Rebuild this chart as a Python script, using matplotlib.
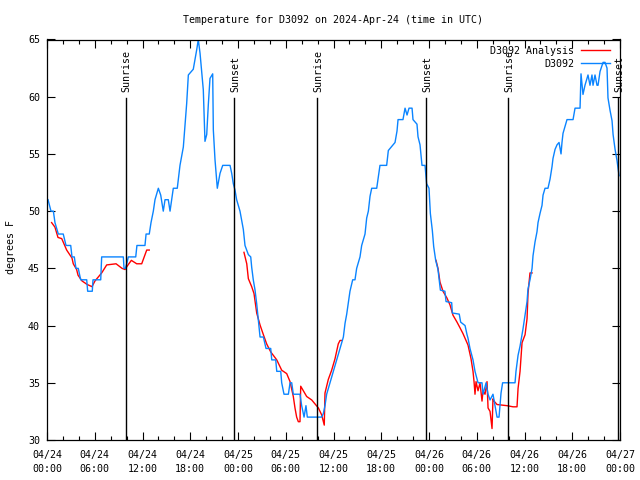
import matplotlib
matplotlib.use('Agg')
import matplotlib.pyplot as plt
from matplotlib.ticker import MultipleLocator

# ---- data (hours since 2024-04-24 00:00 UTC, degrees F) ----
blue_t = [0.13, 0.5, 0.8, 1.0, 1.42, 2.04, 2.39, 2.98, 3.14, 3.43, 3.64, 3.93, 4.23, 4.99, 5.11, 5.69,
          5.78, 6.75, 6.87, 9.59, 9.68, 9.85, 10.02, 10.22, 11.15, 11.3, 12.31, 12.45, 12.85, 13.07,
          13.36, 13.57, 13.99, 14.29, 14.61, 14.83, 15.24, 15.46, 15.87, 16.37, 16.71, 17.13, 17.55,
          17.76, 18.38, 18.81, 19.01, 19.23, 19.64, 19.85, 20.07, 20.27, 20.48, 20.82, 20.9, 21.11,
          21.4, 21.74, 22.08, 23.0, 23.21, 23.41, 23.62, 23.83, 24.25, 24.67, 24.88, 25.3, 25.6,
          25.72, 25.92, 26.14, 26.35, 26.55, 26.77, 27.19, 27.52, 28.11, 28.24, 28.74, 28.87, 29.37,
          29.49, 29.78, 30.33, 30.54, 30.75, 30.95, 31.79, 32.0, 32.3, 32.54, 32.71, 34.51, 34.72,
          34.93, 35.14, 35.56, 35.98, 36.4, 36.82, 37.24, 37.45, 37.66, 37.87, 38.07, 38.41, 38.7,
          38.91, 39.33, 39.54, 39.96, 40.17, 40.38, 40.59, 40.8, 41.43, 41.63, 41.84, 42.68, 42.89,
          43.73, 43.98, 44.11, 44.73, 44.99, 45.24, 45.49, 45.87, 45.99, 46.49, 46.62, 46.87, 47.12,
          47.5, 47.7, 48.0, 48.17, 48.42, 48.59, 48.84, 49.13, 49.43, 50.0, 50.14, 50.85, 50.93,
          51.8, 51.98, 52.53, 52.78, 52.9, 53.15, 53.53, 53.78, 54.16, 54.66, 54.79, 55.17, 55.42,
          55.67, 56.04, 56.3, 56.55, 56.8, 56.92, 57.05, 57.25, 58.81, 58.93, 59.19, 59.44, 59.69,
          59.81, 60.07, 60.32, 60.44, 60.69, 60.95, 61.07, 61.32, 61.57, 61.7, 61.95, 62.2, 62.33,
          62.58, 62.95, 63.21, 63.46, 63.58, 63.84, 64.09, 64.34, 64.59, 64.71, 64.84, 65.09, 65.34,
          66.1, 66.35, 66.98, 67.1, 67.35, 67.6, 67.98, 68.23, 68.48, 68.61, 68.86, 69.11, 69.24,
          69.49, 69.87, 70.12, 70.37, 70.49, 70.75, 71.0, 71.13, 71.38, 71.63, 71.75, 71.88]
blue_f = [51, 50, 50, 49, 48, 48, 47, 47, 46, 46, 45, 45, 44, 44, 43, 43,
          44, 44, 46, 46, 45, 45, 45.4, 46, 46, 47, 47, 48, 48, 49,
          50, 51, 52, 51.4, 50, 51, 51, 50, 52, 52, 54, 55.6, 59.4,
          61.9, 62.4, 64.1, 65, 63.8, 60.6, 56.1, 56.7, 59.3, 61.6, 62, 57.1, 54.5,
          52, 53.3, 54, 54, 53.3, 52.4, 51.85, 51, 50, 48.4, 47, 46.2, 46,
          45.1, 44, 43.1, 41.9, 40.5, 39, 39, 38, 38, 37, 37, 36, 36,
          35, 34, 34, 35, 35, 34, 34, 33, 32, 33, 32, 32, 32.3,
          33, 34, 35, 36, 37, 38, 39, 40.2, 41, 42, 43, 44, 44,
          45, 46, 47, 48, 49.4, 50, 51.3, 52, 52, 53, 54, 54, 55.3,
          56, 57, 58, 58, 59, 58.4, 59, 59, 58, 57.6, 56.5, 55.8, 54,
          54, 52.4, 52, 49.8, 48.3, 46.9, 45.7, 44.9, 43.1, 43, 42.1, 42, 41.1,
          41, 40.3, 40, 39.2, 38.9, 38, 37, 36, 35, 35, 34, 35, 34,
          33.5, 34, 33, 32, 32, 33, 34.1, 35, 35, 36, 37.4, 38.2, 39.2,
          39.7, 40.9, 42.1, 43.2, 44, 45, 46.1, 47.3, 48.2, 49, 49.8, 50.5, 51.4,
          52, 52, 52.8, 53.9, 54.6, 55.4, 55.8, 56, 55, 56, 56.8, 57.4, 58,
          58, 59, 59, 62, 60.2, 61, 61.9, 61, 61.9, 61, 61.9, 61, 61,
          62.2, 63, 63, 62.5, 59.9, 58.8, 57.9, 56.7, 55.4, 54.4, 53.8, 53.1]

red1_t = [0.58, 1.0, 1.38, 1.85, 2.47, 3.14, 3.3, 3.72, 3.9, 4.4, 5.03, 5.65, 6.03, 6.87, 7.5, 8.68,
          9.43, 9.8, 10.18, 10.6, 11.27, 11.9, 12.53, 12.85]
red1_f = [49.0, 48.6, 47.7, 47.6, 46.6, 45.9, 45.4, 44.9, 44.4, 43.9, 43.6, 43.4, 43.9, 44.6, 45.3, 45.4,
          45.0, 44.9, 45.3, 45.7, 45.4, 45.4, 46.6, 46.6]
red2_t = [24.75, 25.1, 25.3, 25.72, 26.01, 26.35, 26.77, 27.19, 27.6, 28.11, 28.87, 29.49, 30.12, 30.54,
          30.95, 31.16, 31.37, 31.58, 31.79, 31.88, 32.63, 33.26, 34.1, 34.51, 34.84, 34.93, 35.35, 35.77,
          36.19, 36.6, 36.82, 37.03]
red2_f = [46.4, 45.4, 44.1, 43.4, 42.8, 41.1, 40.05, 39.2, 38.4, 37.7, 37.0, 36.1, 35.8, 35.1,
          33.8, 32.8, 32.0, 31.6, 31.6, 34.7, 33.8, 33.5, 32.8, 32.2, 31.3, 34.1, 35.3, 36.1,
          37.1, 38.4, 38.7, 38.7]
red3_t = [48.88, 49.13, 49.38, 49.76, 50.26, 50.64, 51.02, 51.52, 51.9, 52.27, 52.9, 53.28, 53.53, 53.66,
          53.78, 53.91, 54.16, 54.41, 54.66, 54.79, 55.04, 55.29, 55.42, 55.67, 55.92, 56.04, 56.17, 56.55,
          57.8, 58.56, 59.06, 59.19, 59.44, 59.69, 60.07, 60.32, 60.44, 60.69, 60.95]
red3_f = [45.7, 45.0, 43.8, 43.0, 42.4, 41.8, 40.9, 40.3, 39.8, 39.3, 38.3, 37.1, 36.0, 35.1,
          34.0, 35.1, 34.3, 35.0, 33.4, 34.3, 34.0, 35.1, 32.8, 32.5, 31.0, 33.6, 33.4, 33.1,
          33.0, 32.9, 32.9, 34.5, 36.0, 38.5, 39.2, 40.6, 42.8, 44.6, 44.6]

sun_t = [9.89, 23.54, 33.97, 47.67, 57.97, 71.8]
sun_labels = ['Sunrise', 'Sunset', 'Sunrise', 'Sunset', 'Sunrise', 'Sunset']

xtick_pos = [0, 6, 12, 18, 24, 30, 36, 42, 48, 54, 60, 66, 72]
xtick_labels = ['04/24\n00:00', '04/24\n06:00', '04/24\n12:00', '04/24\n18:00',
                '04/25\n00:00', '04/25\n06:00', '04/25\n12:00', '04/25\n18:00',
                '04/26\n00:00', '04/26\n06:00', '04/26\n12:00', '04/26\n18:00',
                '04/27\n00:00']
ytick_pos = [30, 35, 40, 45, 50, 55, 60, 65]

RED = '#ff0000'
BLUE = '#0a84ff'
FONT = 'DejaVu Sans Mono'
FS = 7.2

plt.rcParams['font.family'] = [FONT]
fig = plt.figure(figsize=(6.4, 4.8), dpi=100)
ax = fig.add_axes([47 / 640, 40 / 480, 573 / 640, 400.5 / 480])

l_red, = ax.plot(red1_t, red1_f, color=RED, lw=1.0, label='D3092 Analysis')
ax.plot(red2_t, red2_f, color=RED, lw=1.0)
ax.plot(red3_t, red3_f, color=RED, lw=1.0)
l_blue, = ax.plot(blue_t, blue_f, color=BLUE, lw=1.0, label='D3092')

for t, lab in zip(sun_t, sun_labels):
    ax.plot([t, t], [30, 59.9], color='black', lw=1.0)
    ax.text(t + 0.1, 60.4, lab, rotation=90, ha='center', va='bottom', fontsize=FS)

ax.set_xlim(0, 72)
ax.set_ylim(30, 65)
ax.set_xticks(xtick_pos)
ax.set_xticklabels(xtick_labels, fontsize=FS, linespacing=1.55)
ax.xaxis.set_minor_locator(MultipleLocator(2))
ax.set_yticks(ytick_pos)
ax.set_yticklabels([str(v) for v in ytick_pos], fontsize=FS)
ax.tick_params(which='both', direction='in', top=True, right=True, width=0.8)
ax.tick_params(axis='x', which='major', length=6, pad=7)
ax.tick_params(axis='x', which='minor', length=3)
ax.tick_params(axis='y', which='major', length=6, pad=5)
for s in ax.spines.values():
    s.set_linewidth(0.9)

leg = ax.legend(handles=[l_red, l_blue], loc='upper right', bbox_to_anchor=(0.9825, 0.985),
                frameon=False, markerfirst=False, fontsize=FS, borderpad=0, borderaxespad=0,
                handlelength=2.9, handletextpad=0.7, labelspacing=0.3)

fig.text(333 / 640, 1 - 20 / 480, 'Temperature for D3092 on 2024-Apr-24 (time in UTC)',
         ha='center', va='center', fontsize=FS)
fig.text(11 / 640, 1 - 247 / 480, 'degrees F', rotation=90, ha='center', va='center', fontsize=FS)

fig.savefig('out.png', dpi=100)
